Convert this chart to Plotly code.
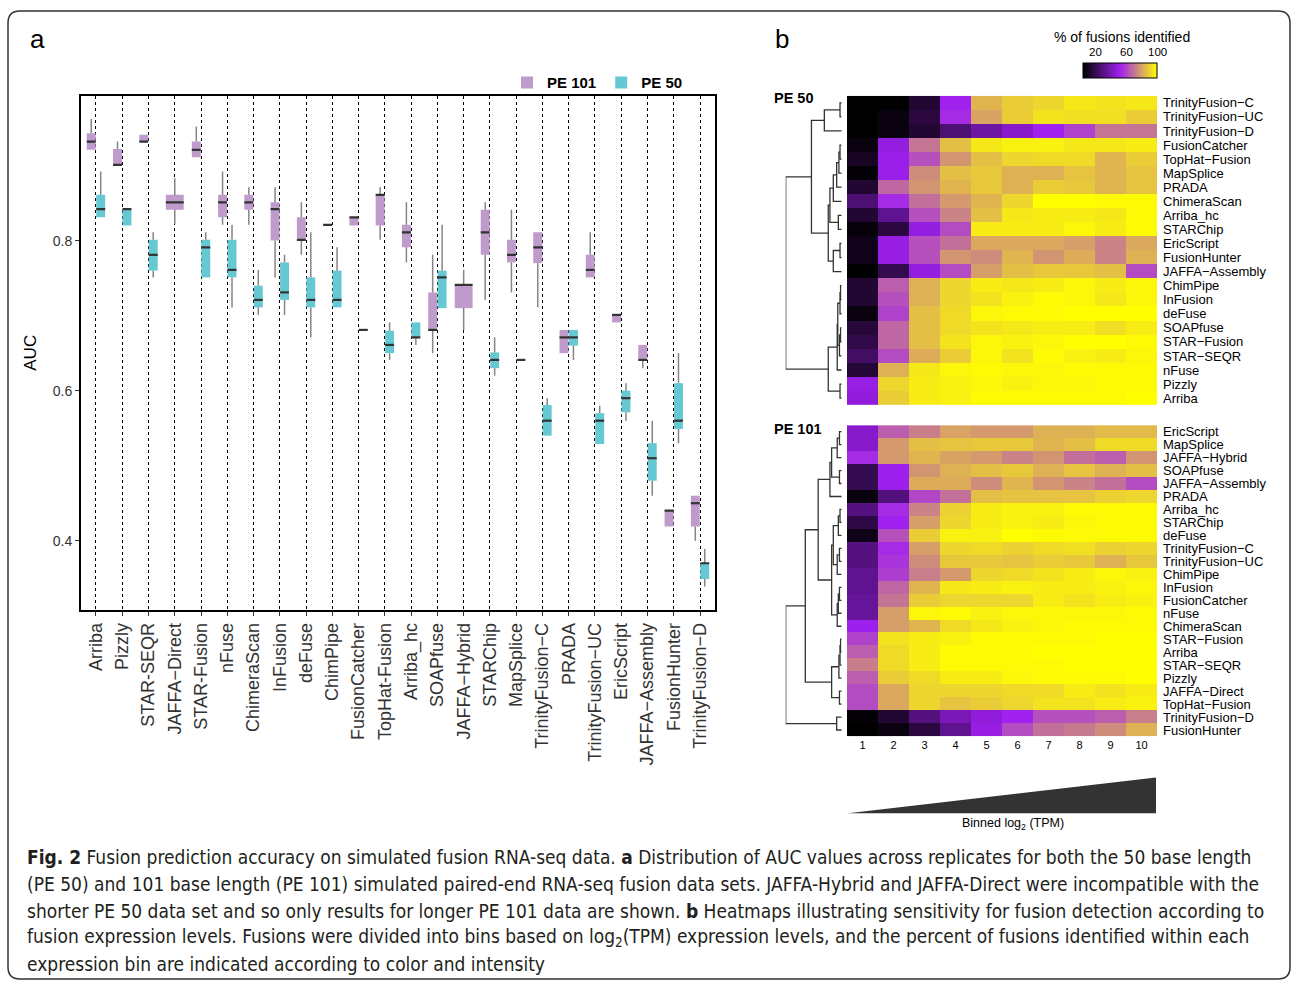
import plotly.graph_objects as go

W, H = 1293, 983


def fx(p):
    return p / W


def fy(p):
    return 1 - p / H


# ---- panel a: AUC per method (boxplot stats) ----
methods = ["Arriba", "Pizzly", "STAR-SEQR", "JAFFA\u2212Direct", "STAR-Fusion", "nFuse",
           "ChimeraScan", "InFusion", "deFuse", "ChimPipe", "FusionCatcher", "TopHat-Fusion",
           "Arriba_hc", "SOAPfuse", "JAFFA\u2212Hybrid", "STARChip", "MapSplice",
           "TrinityFusion\u2212C", "PRADA", "TrinityFusion\u2212UC", "EricScript",
           "JAFFA\u2212Assembly", "FusionHunter", "TrinityFusion\u2212D"]

pe101_low = [0.921, 0.901, 0.932, 0.822, 0.911, 0.821, 0.821, 0.751, 0.781, 0.821, 0.820, 0.801,
             0.771, 0.650, 0.681, 0.721, 0.731, 0.711, 0.650, 0.751, 0.691, 0.630, 0.419, 0.400]
pe101_q1 = [0.921, 0.901, 0.932, 0.841, 0.911, 0.831, 0.841, 0.800, 0.801, 0.821, 0.820, 0.820,
            0.791, 0.681, 0.710, 0.781, 0.771, 0.770, 0.650, 0.751, 0.691, 0.641, 0.419, 0.419]
pe101_med = [0.932, 0.901, 0.932, 0.851, 0.921, 0.851, 0.851, 0.842, 0.801, 0.821, 0.831, 0.861,
             0.811, 0.681, 0.741, 0.811, 0.781, 0.791, 0.671, 0.761, 0.701, 0.641, 0.440, 0.450]
pe101_q3 = [0.943, 0.922, 0.941, 0.861, 0.932, 0.861, 0.861, 0.851, 0.831, 0.821, 0.831, 0.861,
            0.821, 0.731, 0.741, 0.841, 0.801, 0.811, 0.681, 0.781, 0.701, 0.661, 0.440, 0.460]
pe101_high = [0.962, 0.932, 0.941, 0.883, 0.952, 0.892, 0.871, 0.871, 0.851, 0.821, 0.831, 0.871,
              0.851, 0.781, 0.761, 0.851, 0.841, 0.811, 0.681, 0.811, 0.701, 0.661, 0.440, 0.460]

pe50_low = [0.831, 0.820, 0.751, None, 0.751, 0.711, 0.701, 0.701, 0.671, 0.711, 0.681, 0.641,
            0.661, 0.710, None, 0.620, 0.641, 0.540, 0.641, 0.529, 0.560, 0.460, 0.530, 0.339]
pe50_q1 = [0.831, 0.820, 0.760, None, 0.751, 0.751, 0.711, 0.721, 0.711, 0.711, 0.681, 0.650,
           0.671, 0.710, None, 0.630, 0.641, 0.540, 0.660, 0.529, 0.571, 0.480, 0.549, 0.349]
pe50_med = [0.842, 0.842, 0.781, None, 0.791, 0.761, 0.721, 0.731, 0.721, 0.721, 0.681, 0.661,
            0.671, 0.751, None, 0.641, 0.641, 0.560, 0.671, 0.560, 0.590, 0.510, 0.560, 0.370]
pe50_q3 = [0.861, 0.842, 0.801, None, 0.801, 0.801, 0.740, 0.771, 0.751, 0.760, 0.681, 0.680,
           0.691, 0.760, None, 0.651, 0.641, 0.581, 0.681, 0.570, 0.600, 0.530, 0.610, 0.370]
pe50_high = [0.892, 0.842, 0.811, None, 0.811, 0.821, 0.761, 0.781, 0.811, 0.791, 0.681, 0.691,
             0.691, 0.821, None, 0.671, 0.641, 0.590, 0.681, 0.580, 0.610, 0.560, 0.650, 0.389]

auc_ticks = [0.4, 0.6, 0.8]

# ---- panel b: % of fusions identified per expression bin ----
bins = list(range(1, 11))

pe50_rows = ["TrinityFusion\u2212C", "TrinityFusion\u2212UC", "TrinityFusion\u2212D", "FusionCatcher",
             "TopHat\u2212Fusion", "MapSplice", "PRADA", "ChimeraScan", "Arriba_hc", "STARChip",
             "EricScript", "FusionHunter", "JAFFA\u2212Assembly", "ChimPipe", "InFusion", "deFuse",
             "SOAPfuse", "STAR\u2212Fusion", "STAR\u2212SEQR", "nFuse", "Pizzly", "Arriba"]
pe50_pct = [
    [3, 3, 13, 52, 84, 89, 91, 95, 94, 95],
    [3, 6, 16, 54, 80, 89, 94, 93, 93, 89],
    [3, 6, 13, 26, 36, 44, 52, 59, 70, 70],
    [6, 48, 70, 86, 95, 97, 97, 95, 95, 96],
    [10, 50, 62, 77, 86, 91, 92, 92, 84, 89],
    [4, 50, 75, 86, 88, 83, 83, 87, 84, 87],
    [13, 67, 77, 84, 88, 83, 89, 88, 84, 87],
    [26, 54, 69, 78, 84, 91, 100, 100, 99, 99],
    [13, 32, 62, 73, 86, 95, 96, 96, 95, 99],
    [5, 16, 48, 61, 96, 96, 96, 98, 96, 99],
    [8, 49, 62, 69, 81, 81, 81, 79, 73, 81],
    [8, 49, 62, 77, 75, 84, 77, 82, 73, 83],
    [3, 19, 48, 61, 79, 86, 88, 88, 86, 61],
    [13, 65, 83, 91, 96, 95, 96, 98, 96, 98],
    [13, 62, 83, 91, 94, 97, 99, 98, 95, 98],
    [6, 59, 86, 92, 98, 99, 99, 100, 100, 100],
    [15, 67, 86, 92, 94, 95, 96, 96, 93, 96],
    [18, 67, 86, 94, 98, 97, 98, 100, 100, 99],
    [23, 61, 82, 89, 98, 94, 99, 97, 96, 98],
    [14, 83, 95, 98, 99, 98, 98, 99, 99, 99],
    [49, 91, 96, 97, 98, 97, 98, 98, 99, 99],
    [47, 89, 96, 97, 99, 99, 99, 99, 99, 100],
]

pe101_rows = ["EricScript", "MapSplice", "JAFFA\u2212Hybrid", "SOAPfuse", "JAFFA\u2212Assembly", "PRADA",
              "Arriba_hc", "STARChip", "deFuse", "TrinityFusion\u2212C", "TrinityFusion\u2212UC",
              "ChimPipe", "InFusion", "FusionCatcher", "nFuse", "ChimeraScan", "STAR\u2212Fusion",
              "Arriba", "STAR\u2212SEQR", "Pizzly", "JAFFA\u2212Direct", "TopHat\u2212Fusion",
              "TrinityFusion\u2212D", "FusionHunter"]
pe101_pct = [
    [44, 65, 72, 80, 78, 78, 83, 83, 85, 85],
    [44, 78, 86, 87, 88, 88, 84, 86, 92, 92],
    [54, 78, 84, 80, 78, 73, 77, 69, 65, 77],
    [19, 51, 77, 83, 86, 88, 83, 87, 83, 86],
    [19, 51, 82, 82, 75, 84, 77, 73, 69, 61],
    [6, 28, 60, 69, 86, 87, 87, 87, 90, 91],
    [29, 54, 73, 90, 96, 97, 97, 99, 99, 99],
    [17, 52, 79, 91, 96, 97, 96, 98, 99, 99],
    [8, 62, 89, 97, 97, 100, 99, 99, 99, 99],
    [29, 54, 79, 91, 92, 90, 92, 93, 90, 91],
    [29, 56, 75, 88, 88, 87, 89, 88, 83, 88],
    [32, 58, 72, 78, 91, 92, 94, 96, 98, 97],
    [32, 67, 84, 95, 96, 97, 96, 96, 97, 98],
    [34, 70, 89, 91, 91, 91, 96, 94, 96, 97],
    [34, 79, 98, 99, 97, 98, 98, 98, 98, 99],
    [51, 79, 84, 92, 95, 97, 98, 99, 99, 99],
    [59, 94, 96, 97, 99, 99, 99, 99, 100, 100],
    [65, 92, 96, 99, 99, 99, 100, 100, 100, 100],
    [72, 92, 96, 99, 99, 99, 99, 100, 100, 100],
    [65, 89, 92, 96, 96, 98, 99, 99, 99, 100],
    [61, 81, 91, 91, 91, 92, 92, 96, 94, 96],
    [61, 81, 91, 87, 89, 91, 94, 94, 96, 97],
    [4, 13, 29, 40, 47, 52, 62, 62, 65, 72],
    [3, 6, 16, 32, 49, 61, 69, 71, 75, 83],
]

# dendrogram merges: (left, right, height); leaves are row indices, new nodes n, n+1, ...
pe50_merges = [(0, 1, .03), (22, 2, .31), (3, 4, .03), (24, 5, .05), (25, 6, .09), (26, 7, .15),
               (8, 9, .06), (27, 28, .21), (10, 11, .03), (30, 12, .15), (29, 31, .24),
               (23, 32, .54), (13, 14, .02), (34, 15, .03), (16, 17, .02), (36, 18, .04),
               (35, 37, .07), (38, 19, .08), (20, 21, .03), (39, 40, .24), (33, 41, 1.0)]
pe101_merges = [(0, 1, .04), (24, 2, .08), (3, 4, .04), (25, 26, .18), (27, 5, .21), (6, 7, .03),
                (29, 8, .06), (9, 10, .04), (31, 11, .08), (30, 32, .15), (12, 13, .04),
                (34, 14, .06), (35, 15, .08), (33, 36, .18), (28, 37, .42), (16, 17, .02),
                (39, 18, .03), (40, 19, .05), (20, 21, .04), (41, 42, .18), (38, 43, .65),
                (22, 23, .09), (44, 45, 1.0)]

col101 = "#BE9BCB"
col50 = "#66C8D2"
pct_min, pct_max = 3, 100


def box_parts(low, q1, med, q3, high, side, other):
    xs, ws, base, span = [], [], [], []
    wx, wy, mx, my = [], [], [], []
    for i in range(len(methods)):
        if q1[i] is None:
            continue
        if other[i] is None:
            c, w = i, 0.68
        else:
            c, w = i + side * 0.18, 0.34
        xs.append(c)
        ws.append(w)
        base.append(q1[i])
        span.append(q3[i] - q1[i])
        wx += [c, c, None, c, c, None]
        wy += [low[i], q1[i], None, q3[i], high[i], None]
        mx += [c - w / 2, c + w / 2, None]
        my += [med[i], med[i], None]
    return xs, ws, base, span, wx, wy, mx, my


fig = go.Figure()

parts101 = box_parts(pe101_low, pe101_q1, pe101_med, pe101_q3, pe101_high, -1, pe50_q1)
parts50 = box_parts(pe50_low, pe50_q1, pe50_med, pe50_q3, pe50_high, 1, pe101_q1)

for name, col, p in [("<b>PE 101</b>", col101, parts101), ("<b>PE 50</b>", col50, parts50)]:
    xs, ws, base, span, wx, wy, mx, my = p
    fig.add_trace(go.Scatter(x=wx, y=wy, mode="lines", line=dict(color="#858585", width=1.5),
                             showlegend=False, hoverinfo="skip"))
    fig.add_trace(go.Bar(x=xs, y=span, base=base, width=ws, name=name,
                         marker=dict(color=col, line=dict(width=0))))
for p in [parts101, parts50]:
    fig.add_trace(go.Scatter(x=p[6], y=p[7], mode="lines", line=dict(color="#333333", width=2.2),
                             showlegend=False, hoverinfo="skip"))

fig.add_trace(go.Heatmap(z=pe50_pct, x=bins, y=pe50_rows, coloraxis="coloraxis",
                         xaxis="x2", yaxis="y2"))
fig.add_trace(go.Heatmap(z=pe101_pct, x=bins, y=pe101_rows, coloraxis="coloraxis",
                         xaxis="x3", yaxis="y3"))


def dendro(merges, n):
    pos = {i: float(i) for i in range(n)}
    hgt = {i: 0.0 for i in range(n)}
    xs, ys = [], []
    for k, (a, b, h) in enumerate(merges):
        xs += [hgt[a], h, h, hgt[b], None]
        ys += [pos[a], pos[a], pos[b], pos[b], None]
        pos[n + k] = (pos[a] + pos[b]) / 2
        hgt[n + k] = h
    return xs, ys


for merges, rows, ax in [(pe50_merges, pe50_rows, "4"), (pe101_merges, pe101_rows, "5")]:
    dx, dy = dendro(merges, len(rows))
    fig.add_trace(go.Scatter(x=dx, y=dy, mode="lines", line=dict(color="#333333", width=1.3),
                             showlegend=False, hoverinfo="skip", xaxis="x" + ax, yaxis="y" + ax))

font = "Liberation Sans, Arial, sans-serif"
hm_x = [fx(847), fx(1157)]
dd_x = [fx(785.7), fx(841.7)]
y50 = [fy(405), fy(95)]
y101 = [fy(737), fy(425)]
hidden = dict(visible=False, showgrid=False, zeroline=False)
row_font = dict(size=13, color="black")

fig.update_layout(
    width=W, height=H, margin=dict(l=0, r=0, t=0, b=0),
    paper_bgcolor="white", plot_bgcolor="white",
    font=dict(family=font, color="#333333"),
    barmode="overlay",
    xaxis=dict(domain=[fx(81), fx(715)], range=[-0.57, 23.57], tickmode="array",
               tickvals=list(range(len(methods))), ticktext=methods, tickangle=-90,
               tickfont=dict(size=18, color="#333333"), ticks="outside", ticklen=4,
               tickcolor="#333333", showgrid=True, gridcolor="black", griddash="dot",
               gridwidth=1, showline=True, linecolor="black", linewidth=2, mirror=True,
               zeroline=False, anchor="y"),
    yaxis=dict(domain=[fy(610), fy(95)], range=[0.308, 0.993], tickmode="array",
               tickvals=auc_ticks, ticktext=[f"{t:.1f}" for t in auc_ticks],
               tickfont=dict(size=14, color="#333333"), ticks="outside", ticklen=4,
               tickcolor="#333333", showgrid=False, showline=True, linecolor="black",
               linewidth=2, mirror=True, zeroline=False, anchor="x",
               title=dict(text="AUC", font=dict(size=17, color="black"), standoff=12)),
    xaxis2=dict(domain=hm_x, anchor="y2", showticklabels=False, ticks="", showgrid=False,
                zeroline=False),
    yaxis2=dict(domain=y50, anchor="x2", side="right", autorange="reversed", ticks="",
                tickmode="array", tickvals=pe50_rows, ticktext=pe50_rows, ticklabelstandoff=5,
                showgrid=False, zeroline=False, tickfont=row_font),
    xaxis3=dict(domain=hm_x, anchor="y3", tickmode="array", tickvals=bins, ticks="",
                showgrid=False, zeroline=False, tickfont=dict(size=11, color="black")),
    yaxis3=dict(domain=y101, anchor="x3", side="right", autorange="reversed", ticks="",
                tickmode="array", tickvals=pe101_rows, ticktext=pe101_rows, ticklabelstandoff=5,
                showgrid=False, zeroline=False, tickfont=row_font),
    xaxis4=dict(domain=dd_x, anchor="y4", range=[1.0, 0], **hidden),
    yaxis4=dict(domain=y50, anchor="x4", range=[len(pe50_rows) - 0.5, -0.5], **hidden),
    xaxis5=dict(domain=dd_x, anchor="y5", range=[1.0, 0], **hidden),
    yaxis5=dict(domain=y101, anchor="x5", range=[len(pe101_rows) - 0.5, -0.5], **hidden),
    coloraxis=dict(
        colorscale=[[0, "#000000"], [0.5, "#A020F0"], [1, "#FFFF00"]],
        cmin=pct_min, cmax=pct_max,
        colorbar=dict(orientation="h", x=fx(1120), xanchor="center", y=fy(70.5),
                      yanchor="middle", len=74 / W, lenmode="fraction", thickness=15,
                      outlinewidth=1, outlinecolor="black", showticklabels=False, ticks="",
                      xpad=0, ypad=0)),
    legend=dict(orientation="h", x=fx(688), xanchor="right", y=fy(82), yanchor="middle",
                font=dict(size=15, color="black"), bgcolor="rgba(0,0,0,0)",
                traceorder="normal", itemwidth=30),
)

ann = [
    dict(text="a", x=fx(28), y=fy(38), font=dict(size=26, color="black")),
    dict(text="b", x=fx(773), y=fy(38), font=dict(size=26, color="black")),
    dict(text="<b>PE 50</b>", x=fx(772), y=fy(97), font=dict(size=14.5, color="black")),
    dict(text="<b>PE 101</b>", x=fx(772), y=fy(429), font=dict(size=14.5, color="black")),
    dict(text="% of fusions identified", x=fx(1122), y=fy(36), xanchor="center",
         font=dict(size=14, color="black")),
    dict(text="Binned log<sub>2</sub> (TPM)", x=fx(1013), y=fy(825), xanchor="center",
         font=dict(size=12.5, color="black")),
]
# colour bar tick labels placed above the bar
for v in [20, 60, 100]:
    px = 1083 + (v - pct_min) / (pct_max - pct_min) * 74
    ann.append(dict(text=str(v), x=fx(px), y=fy(51), xanchor="center",
                    font=dict(size=11.5, color="black")))

caption = [
    "<b>Fig. 2</b> Fusion prediction accuracy on simulated fusion RNA-seq data. <b>a</b> Distribution of AUC values across replicates for both the 50 base length",
    "(PE 50) and 101 base length (PE 101) simulated paired-end RNA-seq fusion data sets. JAFFA-Hybrid and JAFFA-Direct were incompatible with the",
    "shorter PE 50 data set and so only results for longer PE 101 data are shown. <b>b</b> Heatmaps illustrating sensitivity for fusion detection according to",
    "fusion expression levels. Fusions were divided into bins based on log<sub>2</sub>(TPM) expression levels, and the percent of fusions identified within each",
    "expression bin are indicated according to color and intensity",
]
for k, line in enumerate(caption):
    ann.append(dict(text=line, x=fx(25), y=fy(858 + k * 26.8),
                    font=dict(size=19, color="#231f20",
                              family="Liberation Sans Narrow, DejaVu Sans Condensed, sans-serif")))

for a in ann:
    a.setdefault("xanchor", "left")
    a.update(xref="paper", yref="paper", yanchor="middle", showarrow=False)
fig.update_layout(annotations=ann)

# rounded frame around the figure and the expression wedge
r = 12
L, T, R, B = 8, 10, 1290, 980
frame = (f"M {fx(L + r)} {fy(T)} L {fx(R - r)} {fy(T)} Q {fx(R)} {fy(T)} {fx(R)} {fy(T + r)} "
         f"L {fx(R)} {fy(B - r)} Q {fx(R)} {fy(B)} {fx(R - r)} {fy(B)} "
         f"L {fx(L + r)} {fy(B)} Q {fx(L)} {fy(B)} {fx(L)} {fy(B - r)} "
         f"L {fx(L)} {fy(T + r)} Q {fx(L)} {fy(T)} {fx(L + r)} {fy(T)} Z")
wedge = f"M {fx(848)} {fy(814)} L {fx(1156)} {fy(778)} L {fx(1156)} {fy(814)} Z"
fig.update_layout(shapes=[
    dict(type="path", path=frame, xref="paper", yref="paper",
         line=dict(color="#333333", width=1.5)),
    dict(type="path", path=wedge, xref="paper", yref="paper",
         fillcolor="#333333", line=dict(width=0)),
])

# page body has a default margin; remove it so the figure sits at the window origin
fig.write_html("out.html", config={"displayModeBar": False},
               post_script="document.body.style.margin='0';")
